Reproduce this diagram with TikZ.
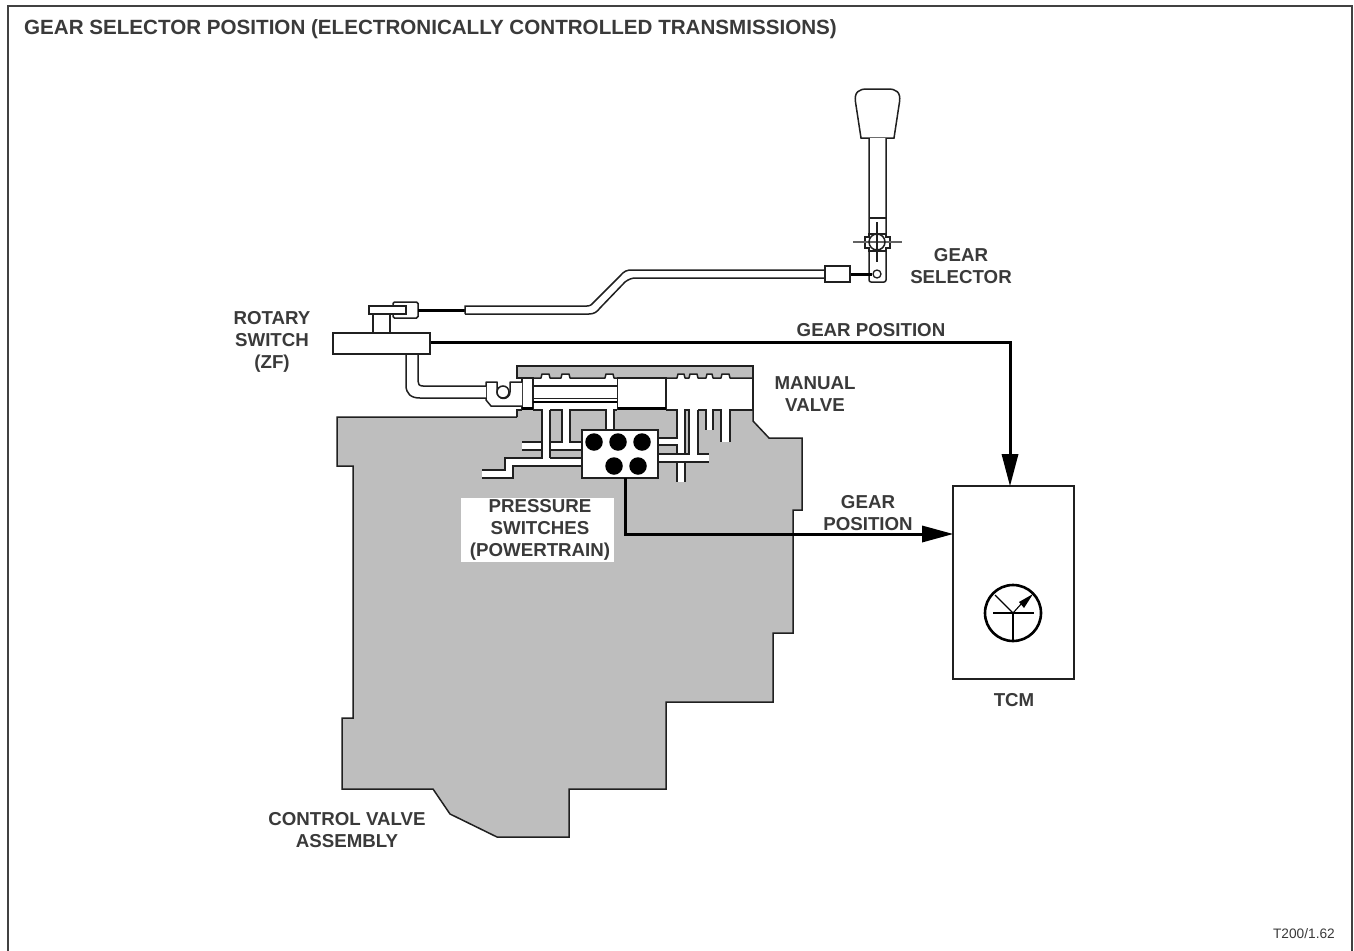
\documentclass[tikz,border=0pt]{standalone}
\usepackage{fontspec}
\setmainfont{Liberation Sans}
\definecolor{txt}{HTML}{3A3A3A}
\definecolor{body}{HTML}{BEBEBE}
\definecolor{ln}{HTML}{202020}
\tikzset{
  lab/.style={font=\bfseries\fontsize{18.7}{22}\selectfont,text=txt,align=center,inner sep=0pt},
  thinl/.style={draw=ln,line width=1.5pt},
  wire/.style={draw=black,line width=3pt},
  dot/.style={circle,fill=black,draw=none,minimum size=17.5pt,inner sep=0pt},
  blockn/.style={draw=ln,line width=1.5pt,fill=white,inner sep=0pt,rectangle},
  hd/.style={fill=black,draw=none}
}
\begin{document}
\begin{tikzpicture}[x=1pt,y=-1pt]
\useasboundingbox (0,0) rectangle (1354,950);
\fill[white] (0,0) rectangle (1354,950);
\draw[draw=ln!85,line width=1.5pt] (8,951) -- (8,6) -- (1352,6) -- (1352,951);
\node[lab,anchor=west,font=\bfseries\fontsize{20.6}{24}\selectfont] (title) at (24,29) {GEAR SELECTOR POSITION (ELECTRONICALLY CONTROLLED TRANSMISSIONS)};
% housing
\path[fill=body] (337,417) -- (517,417) -- (517,366) -- (753,366) -- (753,421) -- (769,438) -- (802,438) -- (802,510) -- (793,510) -- (793,633) -- (773,633) -- (773,702) -- (666,702) -- (666,789) -- (569,789) -- (569,837) -- (497,837) -- (450,814) -- (433,789) -- (342,789) -- (342,718) -- (353,718) -- (353,466) -- (337,466) -- cycle;
\draw[thinl,line join=miter] (517,417) -- (337,417) -- (337,466) -- (353,466) -- (353,718) -- (342,718) -- (342,789) -- (433,789) -- (450,814) -- (497,837) -- (569,837) -- (569,789) -- (666,789) -- (666,702) -- (773,702) -- (773,633) -- (793,633) -- (793,510) -- (802,510) -- (802,438) -- (769,438) -- (753,421) -- (753,410);
% white valve chamber
\fill[white] (517,378) rectangle (753,410);
\fill[white] (517,410) -- (517,408) -- (522,408) -- (522,410) -- cycle;
\draw[thinl] (517,417) -- (517,410) -- (522,410);
\draw[thinl] (522,378) -- (517,378) -- (517,366) -- (753,366) -- (753,378);
\fill[white] (541,374) rectangle (550,378);
\fill[white] (561,374) rectangle (570,378);
\fill[white] (605,374) rectangle (614,378);
\fill[white] (677,374) rectangle (685,378);
\fill[white] (689,374) rectangle (698,378);
\fill[white] (706,374) rectangle (713,378);
\fill[white] (721,374) rectangle (730,378);
\draw[thinl,line join=round] (522,378) -- (541,378) -- (542,374) -- (549,374) -- (550,378) -- (561,378) -- (562,374) -- (569,374) -- (570,378) -- (605,378) -- (606,374) -- (613,374) -- (614,378) -- (666,378) -- (677,378) -- (678,374) -- (684,374) -- (685,378) -- (689,378) -- (690,374) -- (697,374) -- (698,378) -- (706,378) -- (707,374) -- (712,374) -- (713,378) -- (721,378) -- (722,374) -- (729,374) -- (730,378) -- (753,378);
\draw[thinl] (753,378) -- (753,410);
% channels
\fill[white] (542,410) rectangle (550,458);
\fill[white] (562,410) rectangle (570,442);
\fill[white] (606,410) rectangle (614,430);
\fill[white] (522,442) rectangle (542,450);
\fill[white] (550,442) rectangle (582,450);
\fill[white] (482,470) -- (505,470) -- (505,458) -- (582,458) -- (582,466) -- (513,466) -- (513,478) -- (482,478) -- cycle;
\fill[white] (677,410) rectangle (685,482);
\fill[white] (689,410) rectangle (698,454);
\fill[white] (706,410) rectangle (713,430);
\fill[white] (721,410) rectangle (730,442);
\fill[white] (658,438) rectangle (677,445);
\fill[white] (658,454) rectangle (709,462);
% channel outlines
\draw[thinl] (533,410) -- (542,410) -- (542,458) -- (505,458) -- (505,470) -- (482,470);
\draw[thinl] (482,478) -- (513,478) -- (513,466) -- (582,466);
\draw[thinl] (550,458) -- (582,458);
\draw[thinl] (522,442) -- (542,442) (522,450) -- (542,450);
\draw[thinl] (550,410) -- (550,458);
\draw[thinl] (582,442) -- (570,442) -- (570,410) -- (606,410) -- (606,430);
\draw[thinl] (550,410) -- (562,410) -- (562,442) -- (550,442);
\draw[thinl] (550,450) -- (582,450);
\draw[thinl] (614,430) -- (614,410) -- (617,410);
\draw[thinl] (666,410) -- (677,410) -- (677,438) -- (658,438);
\draw[thinl] (658,445) -- (677,445) -- (677,454) -- (658,454);
\draw[thinl] (658,462) -- (677,462) -- (677,482);
\draw[thinl] (677,462) -- (709,462);
\draw[thinl] (677,454) -- (689,454) -- (689,410) -- (685,410) -- (685,454);
\draw[thinl] (685,462) -- (685,482);
\draw[thinl] (698,410) -- (698,454) -- (709,454);
\draw[thinl] (698,410) -- (706,410) -- (706,430);
\draw[thinl] (713,430) -- (713,410) -- (721,410) -- (721,442);
\draw[thinl] (730,442) -- (730,410) -- (753,410);
\draw[thinl] (533,410) -- (542,410);
% spool
\draw[thinl,fill=white] (522,378) rectangle (533,408);
\draw[line width=3pt,black] (522,408.5) -- (533,408.5);
\draw[thinl] (533,386) -- (617,386);
\draw[thinl] (533,398.5) -- (617,398.5);
\draw[line width=2.4pt,black] (533,402) -- (617,402);
\draw[thinl,fill=white] (617.5,378) rectangle (666,409);
\draw[line width=3pt,black] (617.5,408.5) -- (666,408.5);
% clevis and linkage
\node[blockn,minimum width=97pt,minimum height=21pt] (rotary) at (381.5,343.5) {};
\draw[thinl,fill=white,line join=round] (522,382) -- (510,382) -- (510,392) arc[start angle=0,end angle=-180,radius=6.5pt] -- (497,382) -- (486,382) -- (486,400) -- (491,406) -- (522,406);
\draw[thinl,fill=white] (503,392) circle[radius=6pt];
\path[fill=white] (406.5,355) -- (406.5,385) .. controls (406.5,394) and (411,398) .. (420,398) -- (486,398) -- (486,386) -- (423,386) .. controls (419,386) and (418,384) .. (418,381) -- (418,355) -- cycle;
\draw[thinl] (406,354) -- (406,385) .. controls (406,394) and (411,398) .. (420,398) -- (486,398);
\draw[thinl] (418,354) -- (418,381) .. controls (418,384) and (419,386) .. (423,386) -- (486,386);
\draw[thinl] (373,314) -- (373,333) (390,314) -- (390,333);
\draw[thinl,fill=white,rounded corners=1.5pt] (406,302) -- (393,302) -- (393,318) -- (418,318) -- (418,302) -- cycle;
\node[blockn,minimum width=37pt,minimum height=8pt] (bar) at (387.5,310) {};
\path (465,306) coordinate (sleeveA) (465,314) coordinate (sleeveB);
\draw[wire] (418,310) -- (465,310);
\draw[thinl] (sleeveB) -- (sleeveA) -- (587,306) .. controls (591,306) and (592,304) .. (594,302) -- (620,276) .. controls (624,271) and (627,270) .. (632,270) -- (825,270);
\draw[thinl] (sleeveB) -- (589,314) .. controls (594,314) and (597,312) .. (600,308) -- (625,282) .. controls (629,279) and (632,278) .. (636,278) -- (825,278);
% gear lever
\draw[thinl,fill=white] (861,138) -- (855.5,102) .. controls (854,92) and (859,89) .. (867,89) -- (888,89) .. controls (896,89) and (901,92) .. (899.5,102) -- (894,138) -- cycle;
\draw[thinl,fill=white,rounded corners=2pt] (869,138) -- (869,282) -- (886,282) -- (886,138);
\draw[thinl] (869,218) -- (886,218);
\draw[thinl,fill=white] (869,234) -- (886,234) -- (886,237) -- (890,237) -- (890,248) -- (886,248) -- (886,251) -- (869,251) -- (869,248) -- (865,248) -- (865,237) -- (869,237) -- cycle;
\draw[draw=ln!70,line width=1.1pt] (853,242) -- (902,242);
\draw[thinl] (877,222) -- (877,262);
\draw[thinl] (877,242) circle[radius=8pt];
\node[blockn,minimum width=25pt,minimum height=16pt] (cablebox) at (837.5,274) {};
\node[circle,draw=ln,line width=1.3pt,fill=white,minimum size=8pt,inner sep=0pt] (pin) at (877,274) {};
\draw[wire] (cablebox.east) -- (pin.west);
% pressure switch block
\node[blockn,minimum width=76pt,minimum height=48pt] (psw) at (620,454) {};
\node[dot] (d1) at (594,442) {};
\node[dot] (d2) at (618,442) {};
\node[dot] (d3) at (642,442) {};
\node[dot] (d4) at (614,466) {};
\node[dot] (d5) at (638,466) {};
% TCM
\node[rectangle,draw=ln,line width=1.5pt,fill=white,minimum width=121pt,minimum height=193pt,inner sep=0pt] (tcm) at (1013.5,582.5) {};
\coordinate (tcmN) at (1010,486);
\coordinate (tcmW) at (953,534);
\coordinate (c1) at (1010,342);
\coordinate (c2) at (625,534);
\coordinate (pswS) at (625,478);
\draw[wire] (rotary.east |- c1) -- (c1) -- (1010,456);
\fill[hd] (tcmN) -- (1001.5,454) -- (1018.5,454) -- cycle;
\draw[wire] (pswS) -- (c2) -- (924,534);
\fill[hd] (tcmW) -- (922,525.5) -- (922,542.5) -- cycle;
% gauge
\draw[black,line width=2.6pt] (1013,613) circle[radius=28pt];
\draw[black,line width=2.6pt] (993,613) -- (1034,613);
\draw[black,line width=1.2pt] (1013,613) -- (1013,642);
\draw[black,line width=1.1pt] (1013,613) -- (995,595);
\draw[black,line width=1.1pt] (1013,613) -- (1022,603);
\fill[hd] (1033,594) -- (1024,608) -- (1019,602) -- cycle;
% labels
\node[lab] (l1) at (961,266) {GEAR\\SELECTOR};
\node[lab] (l2) at (272,342) {ROTARY\\SWITCH\\(ZF)};
\node[lab,anchor=base] (l3) at (871,336) {GEAR POSITION};
\node[lab] (l4) at (815,394) {MANUAL\\VALVE};
\fill[white] (461,498) rectangle (614,562);
\node[lab] (l5) at (540,529.5) {PRESSURE\\SWITCHES\\(POWERTRAIN)};
\node[lab] (l6) at (868,513) {GEAR\\POSITION};
\node[lab] (l7) at (1014,700) {TCM};
\node[lab] (l8) at (347,830) {CONTROL VALVE\\ASSEMBLY};
\node[anchor=east,inner sep=0pt,text=txt,font=\fontsize{13.7}{16}\selectfont] (l9) at (1335,934) {T200/1.62};
\end{tikzpicture}
\end{document}
